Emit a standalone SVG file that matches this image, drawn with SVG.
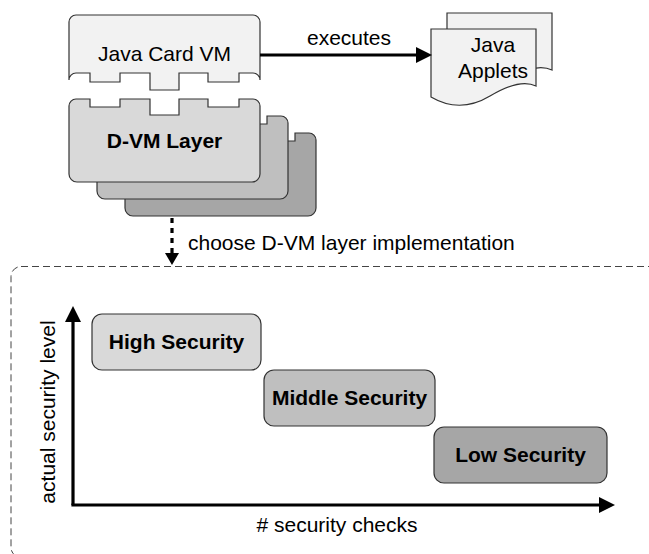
<svg xmlns="http://www.w3.org/2000/svg" width="649" height="554" viewBox="0 0 649 554">
<style>
text{font-family:"Liberation Sans",Arial,sans-serif;font-size:21px;fill:#000}
.b{font-weight:bold}
.shape{stroke:#333;stroke-width:1.2}
.l0{fill:#f2f2f2}
.l1{fill:#d9d9d9}
.l2{fill:#bfbfbf}
.l3{fill:#a6a6a6}
.conn{stroke:#000;stroke-width:3.2;fill:none}
</style>
<defs>
<marker id="arrow" markerUnits="userSpaceOnUse" markerWidth="16" markerHeight="16" viewBox="0 0 16 16" refX="0" refY="8" orient="auto">
<path d="M0,0 L16,8 L0,16 z" fill="#000"/>
</marker>
<marker id="arrowS" markerUnits="userSpaceOnUse" markerWidth="12" markerHeight="14" viewBox="0 0 12 14" refX="0" refY="7" orient="auto">
<path d="M0,0 L12,7 L0,14 z" fill="#000"/>
</marker>
<path id="dvm" d="M69,106 A7,7 0 0 1 76,99 L90,99 L90,107 L120,107 L120,99 L150,99 L150,115 L179,115 L179,99 L208,99 L208,107 L239,107 L239,99 L253,99 A7,7 0 0 1 260,106 L260,174 A8,8 0 0 1 252,182 L77,182 A8,8 0 0 1 69,174 Z"/>
<path id="page" d="M431,29 L536,29 L536,86 Q520,78 490,96 Q460,114 431,97 Z"/>
</defs>

<g id="frame">
<rect x="11" y="266.5" width="680" height="291" rx="10" fill="none" stroke="#444" stroke-width="1" stroke-dasharray="7,4"/>
</g>

<g id="java-card-vm">
<path class="shape l0" d="M69,80 L69,22 A7,7 0 0 1 76,15 L253,15 A7,7 0 0 1 260,22 L260,80 A7,7 0 0 0 253,73 L239,73 L239,82 L208,82 L208,73 L179,73 L179,90 L150,90 L150,73 L120,73 L120,82 L90,82 L90,73 L76,73 A7,7 0 0 0 69,80 Z"/>
<text x="164.5" y="61" text-anchor="middle">Java Card VM</text>
</g>

<g id="java-applets">
<use href="#page" class="shape l0" transform="translate(16,-16)"/>
<use href="#page" class="shape l0"/>
<text x="493" y="52" text-anchor="middle">Java</text>
<text x="493" y="78" text-anchor="middle">Applets</text>
</g>

<g id="dvm-layer">
<use href="#dvm" class="shape l3" transform="translate(56,34)"/>
<use href="#dvm" class="shape l2" transform="translate(28,17)"/>
<use href="#dvm" class="shape l1"/>
<text class="b" x="164.5" y="148" text-anchor="middle">D-VM Layer</text>
</g>

<g id="high-security">
<rect class="shape l1" x="92" y="314" width="169" height="56" rx="10"/>
<text class="b" x="176.5" y="349" text-anchor="middle">High Security</text>
</g>
<g id="middle-security">
<rect class="shape l2" x="264" y="370" width="171" height="56" rx="10"/>
<text class="b" x="349.5" y="405" text-anchor="middle">Middle Security</text>
</g>
<g id="low-security">
<rect class="shape l3" x="434" y="427" width="173" height="56" rx="10"/>
<text class="b" x="520.5" y="462" text-anchor="middle">Low Security</text>
</g>

<g id="connectors">
<path class="conn" d="M260,55 L416,55" marker-end="url(#arrow)"/>
<path class="conn" d="M172,218 L172,253" stroke-dasharray="5,5" marker-end="url(#arrowS)"/>
<path class="conn" d="M73,505 L73,322" marker-end="url(#arrow)"/>
<path class="conn" d="M71.4,505 L599,505" marker-end="url(#arrow)"/>
</g>

<g id="labels">
<text x="349" y="45" text-anchor="middle">executes</text>
<text x="188" y="250">choose D-VM layer implementation</text>
<text transform="translate(55,412) rotate(-90)" text-anchor="middle">actual security level</text>
<text x="337" y="532" text-anchor="middle"># security checks</text>
</g>
</svg>
